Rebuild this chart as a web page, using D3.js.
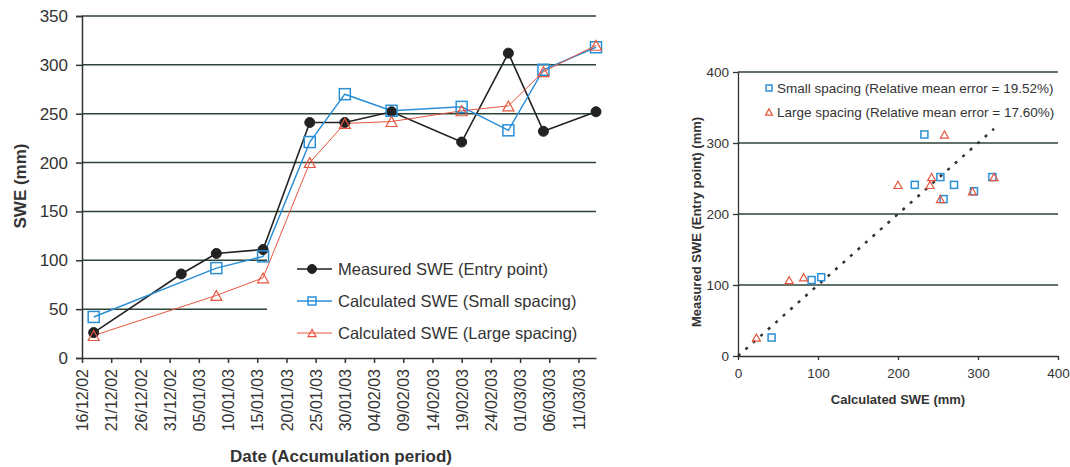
<!DOCTYPE html>
<html>
<head>
<meta charset="utf-8">
<script src="https://cdn.jsdelivr.net/npm/d3@7"></script>
<style>
  body { margin: 0; background: #fff; }
  svg { display: block; font-family: "Liberation Sans", Arial, sans-serif; }
</style>
</head>
<body>
<div id="chart"></div>
<script>
// Data
const dates = ["18/12/02", "02/01/03", "08/01/03", "16/01/03", "24/01/03", "30/01/03",
               "07/02/03", "19/02/03", "27/02/03", "05/03/03", "14/03/03"];
const measured     = [26, 86, 107, 111, 241, 241, 252, 221, 312, 232, 252];
const smallSpacing = [42, null, 92, 104, 221, 270, 253, 257, 233, 295, 318];
const largeSpacing = [23, null, 64, 82, 200, 240, 242, 253, 258, 293, 320];

const dateTicks = ["16/12/02", "21/12/02", "26/12/02", "31/12/02", "05/01/03", "10/01/03",
                   "15/01/03", "20/01/03", "25/01/03", "30/01/03", "04/02/03", "09/02/03",
                   "14/02/03", "19/02/03", "24/02/03", "01/03/03", "06/03/03", "11/03/03"];
const dateDomain = ["16/12/02", "14/03/03"];
const sweTicks = [0, 50, 100, 150, 200, 250, 300, 350];
const scatterTicks = [0, 100, 200, 300, 400];
const oneToOne = [0, 320];

const parse = d3.timeParse("%d/%m/%y");
const fmt = d3.timeFormat("%d/%m/%y");

const gridColor = "#2c4536";
const axisColor = "#333";
const blue = "#2b8fd6";
const red = "#e8553f";
const black = "#222";

const svg = d3.select("#chart").append("svg")
    .attr("width", 1070)
    .attr("height", 467);

// ---------- Left chart: time series ----------
const x = d3.scaleTime()
    .domain(dateDomain.map(parse))
    .range([82, 596]);

const y = d3.scaleLinear()
    .domain([0, 350])
    .range([358, 16]);

const left = svg.append("g");

// gridlines
left.append("g")
    .selectAll("line")
    .data(sweTicks.filter(d => d > 0))
    .enter()
    .append("line")
    .attr("x1", 82)
    .attr("x2", 596)
    .attr("y1", d => y(d))
    .attr("y2", d => y(d))
    .attr("stroke", gridColor)
    .attr("stroke-width", 1.5);

// legend background sits over the gridlines, under the series
left.append("rect")
    .attr("x", 267)
    .attr("y", 228)
    .attr("width", 332)
    .attr("height", 122)
    .attr("fill", "#fff");

// axes
const yAxis = left.append("g")
    .attr("transform", "translate(82,0)")
    .call(d3.axisLeft(y).tickValues(sweTicks).tickSize(6).tickPadding(8));

const xAxis = left.append("g")
    .attr("transform", "translate(0,358)")
    .call(d3.axisBottom(x).tickValues(dateTicks.map(parse)).tickFormat(fmt).tickSize(5).tickSizeOuter(0));

yAxis.selectAll("text").attr("font-size", 17).attr("fill", axisColor).attr("font-family", "Liberation Sans");
xAxis.selectAll("text")
    .attr("font-size", 16)
    .attr("fill", axisColor)
    .attr("font-family", "Liberation Sans")
    .attr("transform", "rotate(-90)")
    .attr("text-anchor", "end")
    .attr("x", -11)
    .attr("y", 0)
    .attr("dy", "0.35em");
[yAxis, xAxis].forEach(a => {
    a.select(".domain").attr("stroke", axisColor).attr("stroke-width", 1.5);
    a.selectAll(".tick line").attr("stroke", axisColor).attr("stroke-width", 1.5);
});

left.append("text")
    .attr("transform", "translate(26,186) rotate(-90)")
    .attr("text-anchor", "middle")
    .attr("font-size", 17)
    .attr("font-weight", "bold")
    .attr("fill", "#333")
    .text("SWE (mm)");

left.append("text")
    .attr("x", 341)
    .attr("y", 462)
    .attr("text-anchor", "middle")
    .attr("font-size", 17)
    .attr("font-weight", "bold")
    .attr("fill", "#333")
    .text("Date (Accumulation period)");

// series
const series = [
    { name: "Measured SWE (Entry point)", values: measured, color: black, width: 1.6, marker: "circle" },
    { name: "Calculated SWE (Small spacing)", values: smallSpacing, color: blue, width: 1.5, marker: "square" },
    { name: "Calculated SWE (Large spacing)", values: largeSpacing, color: red, width: 1, marker: "triangle" }
];

function pts(s) {
    return dates.map((d, i) => ({ date: parse(d), v: s.values[i] })).filter(p => p.v != null);
}

function drawMarker(g, type, color, size, filled) {
    if (type === "circle") {
        g.append("circle").attr("r", size / 2)
            .attr("fill", color).attr("stroke", color);
    } else if (type === "square") {
        g.append("rect")
            .attr("x", -size / 2).attr("y", -size / 2)
            .attr("width", size).attr("height", size)
            .attr("fill", filled ? color : "none")
            .attr("stroke", color).attr("stroke-width", 1.5);
    } else {
        const h = size * 0.9;
        g.append("path")
            .attr("d", `M0,${-h / 2}L${size / 2},${h / 2}L${-size / 2},${h / 2}Z`)
            .attr("fill", filled ? color : "none")
            .attr("stroke", color).attr("stroke-width", 1.2);
    }
}

const line = d3.line().x(p => x(p.date)).y(p => y(p.v));

series.forEach(s => {
    left.append("path")
        .datum(pts(s))
        .attr("d", line)
        .attr("fill", "none")
        .attr("stroke", s.color)
        .attr("stroke-width", s.width);
});

series.forEach(s => {
    left.selectAll(null)
        .data(pts(s))
        .enter()
        .append("g")
        .attr("transform", p => `translate(${x(p.date)},${y(p.v)})`)
        .each(function () { drawMarker(d3.select(this), s.marker, s.color, s.marker === "circle" ? 10 : 11, false); });
});

// legend
const legend = left.selectAll(".legend")
    .data(series)
    .enter()
    .append("g")
    .attr("transform", (d, i) => `translate(297,${269 + i * 32})`);

legend.append("line")
    .attr("x1", 0).attr("x2", 35)
    .attr("stroke", d => d.color)
    .attr("stroke-width", d => d.width);

legend.append("g")
    .attr("transform", "translate(15,0)")
    .each(function (d) { drawMarker(d3.select(this), d.marker, d.color, d.marker === "circle" ? 9 : 8, false); });

legend.append("text")
    .attr("x", 41)
    .attr("dy", "0.35em")
    .attr("font-size", 16.5)
    .attr("fill", "#333")
    .text(d => d.name);

// ---------- Right chart: scatter ----------
const sx = d3.scaleLinear().domain([0, 400]).range([738, 1058]);
const sy = d3.scaleLinear().domain([0, 400]).range([356, 72]);

const right = svg.append("g");

right.append("g")
    .selectAll("line")
    .data(scatterTicks.filter(d => d > 0))
    .enter()
    .append("line")
    .attr("x1", 738)
    .attr("x2", 1058)
    .attr("y1", d => sy(d))
    .attr("y2", d => sy(d))
    .attr("stroke", gridColor)
    .attr("stroke-width", 1.3);

const syAxis = right.append("g")
    .attr("transform", "translate(738,0)")
    .call(d3.axisLeft(sy).tickValues(scatterTicks).tickSize(5).tickPadding(4).tickSizeOuter(0));
const sxAxis = right.append("g")
    .attr("transform", "translate(0,356)")
    .call(d3.axisBottom(sx).tickValues(scatterTicks).tickSize(4).tickPadding(8).tickSizeOuter(0));

[syAxis, sxAxis].forEach(a => {
    a.select(".domain").attr("stroke", axisColor).attr("stroke-width", 1.3);
    a.selectAll(".tick line").attr("stroke", axisColor).attr("stroke-width", 1.3);
    a.selectAll("text").attr("font-size", 13.5).attr("fill", axisColor).attr("font-family", "Liberation Sans");
});

right.append("text")
    .attr("x", 898)
    .attr("y", 404)
    .attr("text-anchor", "middle")
    .attr("font-size", 13)
    .attr("font-weight", "bold")
    .attr("fill", "#333")
    .text("Calculated SWE (mm)");

right.append("text")
    .attr("transform", "translate(701,222) rotate(-90)")
    .attr("text-anchor", "middle")
    .attr("font-size", 13)
    .attr("font-weight", "bold")
    .attr("fill", "#333")
    .text("Measured SWE (Entry point) (mm)");

// 1:1 line
right.append("line")
    .attr("x1", sx(oneToOne[0])).attr("y1", sy(oneToOne[0]))
    .attr("x2", sx(oneToOne[1])).attr("y2", sy(oneToOne[1]))
    .attr("stroke", "#333")
    .attr("stroke-width", 2.5)
    .attr("stroke-dasharray", "3,7");

const scatterSeries = [
    { name: "Small spacing (Relative mean error = 19.52%)", values: smallSpacing, color: blue, marker: "square" },
    { name: "Large spacing (Relative mean error = 17.60%)", values: largeSpacing, color: red, marker: "triangle" }
];

scatterSeries.forEach(s => {
    const data = measured.map((m, i) => ({ c: s.values[i], m: m })).filter(p => p.c != null);
    right.selectAll(null)
        .data(data)
        .enter()
        .append("g")
        .attr("transform", p => `translate(${sx(p.c)},${sy(p.m)})`)
        .each(function () { drawMarker(d3.select(this), s.marker, s.color, s.marker === "square" ? 7 : 8, false); });
});

const sLegend = right.selectAll(".slegend")
    .data(scatterSeries)
    .enter()
    .append("g")
    .attr("transform", (d, i) => `translate(769,${88 + i * 24})`);

sLegend.append("g")
    .each(function (d) { drawMarker(d3.select(this), d.marker, d.color, d.marker === "square" ? 6 : 7, false); });

sLegend.append("text")
    .attr("x", 8)
    .attr("dy", "0.35em")
    .attr("font-size", 13.5)
    .attr("fill", "#333")
    .text(d => d.name);
</script>
</body>
</html>
